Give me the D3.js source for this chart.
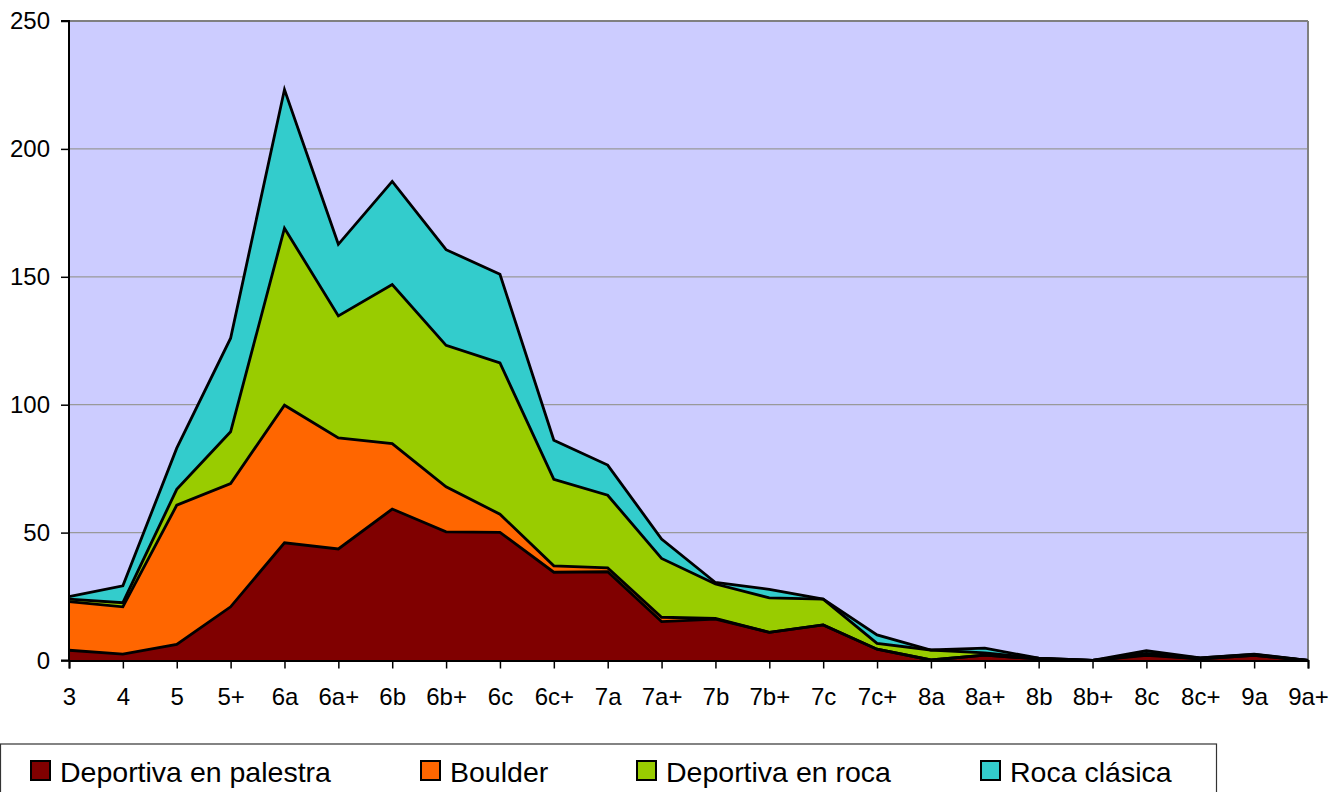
<!DOCTYPE html>
<html>
<head>
<meta charset="utf-8">
<script src="https://cdn.jsdelivr.net/npm/d3@7"></script>
<style>
  body { margin: 0; background: #fff; }
  svg { display: block; font-family: "Liberation Sans", Arial, sans-serif; }
</style>
</head>
<body>
<svg id="chart" width="1343" height="792"></svg>
<script>
// grados
let grados = ["3", "4", "5", "5+", "6a", "6a+", "6b", "6b+", "6c", "6c+", "7a", "7a+", "7b", "7b+", "7c", "7c+", "8a", "8a+", "8b", "8b+", "8c", "8c+", "9a", "9a+"];

// valores de cada serie (apiladas)
let palestra = [4, 2.5, 6.3, 21, 46, 43.6, 59.2, 50.3, 50.1, 34.5, 34.7, 15.2, 16.2, 11, 13.9, 4.4, 0.2, 2.1, 0.6, 0, 2, 0.6, 2, 0];
let boulder = [19, 18.5, 54.4, 48.2, 53.8, 43.4, 25.6, 17.6, 7.1, 2.5, 1.5, 1.7, 0.3, 0, 0, 0, 0, 0, 0, 0, 0.3, 0, 0, 0];
let depRoca = [1, 1.6, 6.2, 20.2, 69.2, 47.7, 62.2, 55.3, 59.1, 33.8, 28.4, 23, 13.4, 13.5, 10.1, 2.3, 3.9, 0.9, 0.3, 0, 0.5, 0.4, 0.4, 0];
let rocaClasica = [1, 6.6, 16.1, 36.6, 54.2, 28, 40.3, 37.4, 34.7, 15.3, 11.8, 7.6, 0.6, 3.3, 0, 3.3, 0, 1.8, 0, 0, 1, 0, 0.1, 0];

let series = ["Deportiva en palestra", "Boulder", "Deportiva en roca", "Roca clásica"];
let colores = ["#800000", "#FF6600", "#99CC00", "#33CCCC"];
let yTicks = [0, 50, 100, 150, 200, 250];

let tabla = grados.map((g, i) => ({
    grado: g,
    "Deportiva en palestra": palestra[i],
    "Boulder": boulder[i],
    "Deportiva en roca": depRoca[i],
    "Roca clásica": rocaClasica[i]
}));

let izq = 69, der = 1308, arriba = 21, abajo = 660.5;
let svg = d3.select("#chart");

let x = d3.scalePoint().domain(grados).range([izq, der]);
let y = d3.scaleLinear().domain([0, 250]).range([abajo, arriba]);

// fondo del área
svg.append("rect")
    .attr("x", izq).attr("y", arriba)
    .attr("width", der - izq).attr("height", abajo - arriba)
    .attr("fill", "#CCCCFF");

// líneas de la rejilla
svg.selectAll(".rejilla")
    .data(yTicks.filter(d => d > 0))
    .join("line")
    .attr("class", "rejilla")
    .attr("x1", izq).attr("x2", der)
    .attr("y1", d => y(d)).attr("y2", d => y(d))
    .attr("stroke", d => d == 250 ? "#808080" : "#999999")
    .attr("stroke-width", d => d == 250 ? 2 : 1.2);

// borde derecho
svg.append("line")
    .attr("x1", der).attr("x2", der)
    .attr("y1", arriba).attr("y2", abajo)
    .attr("stroke", "#808080").attr("stroke-width", 2);

let apilado = d3.stack().keys(series)(tabla);

let area = d3.area()
    .x(d => x(d.data.grado))
    .y0(d => y(d[0]))
    .y1(d => y(d[1]));

let linea = d3.line()
    .x(d => x(d.data.grado))
    .y(d => y(d[1]));

svg.append("g").selectAll("path")
    .data(apilado)
    .join("path")
    .attr("d", area)
    .attr("fill", (d, i) => colores[i]);

svg.append("g").selectAll("path")
    .data(apilado)
    .join("path")
    .attr("d", linea)
    .attr("fill", "none")
    .attr("stroke", "black")
    .attr("stroke-width", 2.8)
    .attr("stroke-linejoin", "miter");

// ejes
let ejeY = svg.append("g")
    .attr("transform", `translate(${izq},0)`)
    .call(d3.axisLeft(y).tickValues(yTicks).tickSize(8).tickPadding(11));
let ejeX = svg.append("g")
    .attr("transform", `translate(0,${abajo})`)
    .call(d3.axisBottom(x).tickSize(8).tickPadding(19));

[ejeY, ejeX].forEach(function (eje) {
    eje.select(".domain").attr("stroke", "black").attr("stroke-width", 2);
    eje.selectAll(".tick line").attr("stroke", "black").attr("stroke-width", 1.5);
    eje.selectAll("text")
        .attr("font-size", "24px")
        .attr("fill", "black")
        .style("font-family", "'Liberation Sans', Arial, sans-serif");
});
ejeY.select(".domain").attr("d", `M-8,${abajo}H0V${arriba}H-8`);

// leyenda
svg.append("rect")
    .attr("x", 0.5).attr("y", 744)
    .attr("width", 1216).attr("height", 80)
    .attr("fill", "white")
    .attr("stroke", "#333")
    .attr("stroke-width", 1.2);

let posLeyenda = [31, 421, 637, 981];
let itemLeyenda = svg.selectAll(".leyenda")
    .data(series)
    .join("g")
    .attr("class", "leyenda")
    .attr("transform", (d, i) => `translate(${posLeyenda[i]},761)`);

itemLeyenda.append("rect")
    .attr("width", 19).attr("height", 19)
    .attr("fill", (d, i) => colores[i])
    .attr("stroke", "black")
    .attr("stroke-width", 2);

itemLeyenda.append("text")
    .attr("x", 29)
    .attr("y", 21)
    .attr("font-size", "28.5px")
    .attr("fill", "black")
    .text(d => d);
</script>
</body>
</html>
